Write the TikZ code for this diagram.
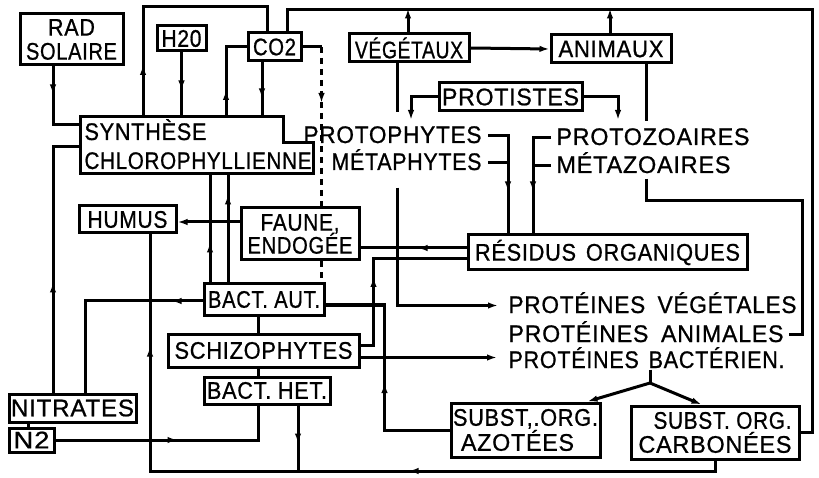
\documentclass[tikz,border=0pt]{standalone}
\usepackage{fontspec}
\usepackage{graphicx}
\setmainfont{Liberation Sans}[FakeStretch=0.92,LetterSpace=3,FakeBold=0.8]
\usetikzlibrary{arrows.meta,decorations.markings}
\newcommand\lbl{\fontsize{24}{25}\selectfont}
\newcommand\fw[2]{\resizebox{#1pt}{\height}{#2}}
\tikzset{
 box/.style={draw, line width=3pt, inner sep=0pt, align=center, font=\lbl},
 txt/.style={inner sep=0pt, font=\lbl, anchor=base west},
 endarr/.style={-{Latex[length=10pt,width=6.5pt]}},
 arrat/.style={postaction={decorate,decoration={markings,mark=at position #1 with {\arrow{Latex[length=10pt,width=6.5pt]}}}}},
 dsh/.style={dash pattern=on 6pt off 5pt},
}
\begin{document}
\begin{tikzpicture}[x=1pt,y=-1pt,line width=3pt]
\fill[white] (0,0) rectangle (819,478);
\useasboundingbox (0,0) rectangle (819,478);

% boxes
\node[box,minimum width=103pt,minimum height=51pt] (rad) at (71.5,39.5) {\fw{47}{RAD}\\[-1pt]\fw{91}{SOLAIRE}};
\node[box,minimum width=49pt,minimum height=25pt] (h2o) at (181.5,38.5) {\fw{40}{H20}};
\node[box,minimum width=53pt,minimum height=28pt] (co2) at (274.5,47) {\fw{43}{CO2}};
\node[box,minimum width=120pt,minimum height=28pt] (veg) at (409,48) {\fw{108}{VÉGÉTAUX}};
\node[box,minimum width=120pt,minimum height=28pt] (ani) at (611,49) {\fw{105}{ANIMAUX}};
\node[box,minimum width=143pt,minimum height=28pt] (prot) at (510.5,97) {\fw{137}{PROTISTES}};
\node[box,minimum width=97pt,minimum height=27pt] (humus) at (127.5,219.5) {\fw{80}{HUMUS}};
\node[box,minimum width=118pt,minimum height=52pt] (faune) at (300,234) {\fw{79}{FAUNE,}\\[-2pt]\fw{105}{ENDOGÉE}};
\node[box,minimum width=279pt,minimum height=35pt] (resid) at (607.5,252.5) {\fw{265}{RÉSIDUS\hspace{10pt}ORGANIQUES}};
\node[box,minimum width=120pt,minimum height=31pt] (bacta) at (264,299.5) {\fw{112}{BACT. AUT.}};
\node[box,minimum width=191pt,minimum height=33pt] (schizo) at (263.5,350.5) {\fw{178}{SCHIZOPHYTES}};
\node[box,minimum width=126pt,minimum height=27pt] (bacth) at (267,390.5) {\fw{120}{BACT. HET.}};
\node[box,minimum width=127pt,minimum height=28pt] (nitr) at (72.5,408) {\fw{123}{NITRATES}};
\node[box,minimum width=45pt,minimum height=24pt] (n2) at (31.5,440) {\fw{36}{N2}};
\node[box,minimum width=149pt,minimum height=54pt,align=left] (azot) at (525.5,430) {\fw{145}{SUBST,.ORG.}\\[0pt]\hspace*{8pt}\fw{113}{AZOTÉES}};
\node[box,minimum width=168pt,minimum height=53pt,align=right] (carb) at (715,432.5) {\fw{138}{SUBST. ORG.}\\[-1pt]\fw{153}{CARBONÉES}};

% synthese (notched box)
\coordinate (stl) at (80,117); \coordinate (str) at (283,117);
\coordinate (sn1) at (283,143); \coordinate (sn2) at (313,143);
\coordinate (sbr) at (313,174); \coordinate (sbl) at (80,174);
\coordinate (sL1) at (80,125); \coordinate (sL2) at (80,147);
\draw (stl) -- (str) -- (sn1) -- (sn2) -- (sbr) -- (sbl) -- cycle;
\node[txt] (synA) at (83,140) {\fw{122}{SYNTHÈSE}};
\node[txt] (synB) at (83,169) {\fw{227}{CHLOROPHYLLIENNE}};

% free texts
\node[txt] (protoph) at (302,143) {\fw{178}{PROTOPHYTES}};
\node[txt] (metaph) at (330,170) {\fw{150}{MÉTAPHYTES}};
\node[txt] (protoz) at (555,145) {\fw{193}{PROTOZOAIRES}};
\node[txt] (metaz) at (555,173) {\fw{174}{MÉTAZOAIRES}};
\node[txt] (pv) at (507,313) {\fw{288}{PROTÉINES\hspace{12pt}VÉGÉTALES}};
\node[txt] (pa) at (507,342) {\fw{275}{PROTÉINES\hspace{12pt}ANIMALES}};
\node[txt] (pb) at (507,368) {\fw{276}{PROTÉINES\hspace{10pt}BACTÉRIEN.}};

% helper coordinates
\coordinate (vV) at (397,0);
\coordinate (vP) at (508,0);
\coordinate (vZ) at (533,0);
\coordinate (rt2) at (802,201);
\coordinate (busB) at (0,471);
\coordinate (fork) at (650,383);

% inputs to synthese
\draw[arrat=28pt] ([xshift=-18.5pt]rad.south) |- (sL1);
\draw[arrat=38pt] (h2o.south) -- (h2o.south |- stl);
\draw[arrat=36pt] ([xshift=-12.5pt]co2.south) -- ([xshift=-12.5pt]co2.south |- stl);
\draw[arrat=27pt] ([xshift=146pt]stl) |- (co2.west);
\draw[arrat=52pt] ([xshift=63pt]stl) -- ++(0,-110) -| ([xshift=-7.5pt]co2.north);
\draw[arrat=110pt] ([xshift=-19.5pt]nitr.north) |- (sL2);

% CO2 dashed
\draw (co2.east) -- ++(19,0) coordinate (cd);
\draw[dsh,arrat=56pt] (cd) -- (cd |- faune.north);
\draw[dsh] (cd |- faune.south) -- (cd |- bacta.north);

% top bus
\draw (carb.east) -- ++(12,0) -- ++(0,-422.5) -| ([xshift=12.5pt]co2.north);
\draw[endarr] ([xshift=-1pt]veg.north) -- ++(0,-24);
\draw[endarr] ([xshift=-1pt]ani.north) -- ++(0,-25);

% vegetaux / animaux / protistes
\draw[endarr] (veg.east) -- (ani.west);
\draw[endarr] (prot.west) -| ([shift={(-26.5,23)}]prot.west);
\draw[endarr] (prot.east) -| ([shift={(34.5,23)}]prot.east);
\draw ([xshift=35pt]ani.south) -- ([xshift=35pt,yshift=6pt]ani.south |- protoz.north);
\draw ([xshift=35pt,yshift=-4pt]ani.south |- metaz.south) |- (rt2) |- ([shift={(4pt,7.5pt)}]pa.base east);

% phytes / zoaires to residus
\draw[arrat=-42pt] ([shift={(5pt,7.5pt)}]protoph.base east) -| (vP |- resid.north);
\draw ([shift={(5pt,7.5pt)}]metaph.base east) -- ([yshift=7.5pt]vP |- metaph.base east);
\draw[arrat=-42pt] ([shift={(-4pt,7.5pt)}]protoz.base west) -| (vZ |- resid.north);
\draw ([shift={(-4pt,7.5pt)}]metaz.base west) -- ([yshift=7.5pt]vZ |- metaz.base west);

% vegetaux to proteines vegetales
\draw ([xshift=-12pt]veg.south) -- ([xshift=-12pt,yshift=13pt]veg.south |- protoph.north);
\draw[endarr] ([yshift=-16pt]vV |- metaph.south) |- ([shift={(-9pt,7.5pt)}]pv.base west);

% residus / faune / humus
\draw[arrat=49pt] ([yshift=4.5pt]resid.west) -- ([yshift=4.5pt]resid.west -| faune.east);
\draw[endarr] ([yshift=12pt]faune.west) -- ([yshift=12pt]faune.west -| humus.east);

% schizophytes
\draw[arrat=81pt] ([yshift=5.5pt]schizo.east) -- ++(13,0) |- ([yshift=-6.5pt]resid.west);
\draw[endarr] ([yshift=-7pt]schizo.east) -- ([xshift=-10pt,yshift=-7pt]schizo.east -| pb.west);
\draw ([xshift=-6pt]bacta.south) -- ([xshift=-6pt]bacta.south |- schizo.north);
\draw ([xshift=-5.5pt]schizo.south) -- ([xshift=-5.5pt]schizo.south |- bacth.north);

% bact aut
\draw[arrat=40pt] ([xshift=-54pt]bacta.north) -- ([xshift=-54pt]bacta.north |- sbl);
\draw[arrat=88pt] ([xshift=-36pt]bacta.north) -- ([xshift=-36pt]bacta.north |- sbl);
\draw[arrat=31pt] ([yshift=-1.5pt]bacta.west) -| ([xshift=12.5pt]nitr.north);
\draw[arrat=112pt] (azot.west) -- ++(-65,0) |- ([yshift=-5.5pt]bacta.east);

% nitrates / n2
\draw ([xshift=-3.5pt]n2.north) -- ([xshift=-3.5pt]n2.north |- nitr.south);
\draw[arrat=122pt] (n2.east) -| ([xshift=-9pt]bacth.south);

% bottom bus
\draw[arrat=38pt] ([xshift=31pt]bacth.south) -- ([xshift=31pt]bacth.south |- busB);
\draw[arrat=317pt,arrat=700pt] (carb.south) |- ([xshift=22.5pt]humus.south |- busB) -- ([xshift=22.5pt]humus.south);

% proteines bacteriennes fork
\draw (fork |- pb.south) -- (fork);
\draw[endarr] (fork) -- ([xshift=-14pt]azot.north east);
\draw[endarr] (fork) -- ([xshift=72pt]carb.north west);
\end{tikzpicture}
\end{document}
